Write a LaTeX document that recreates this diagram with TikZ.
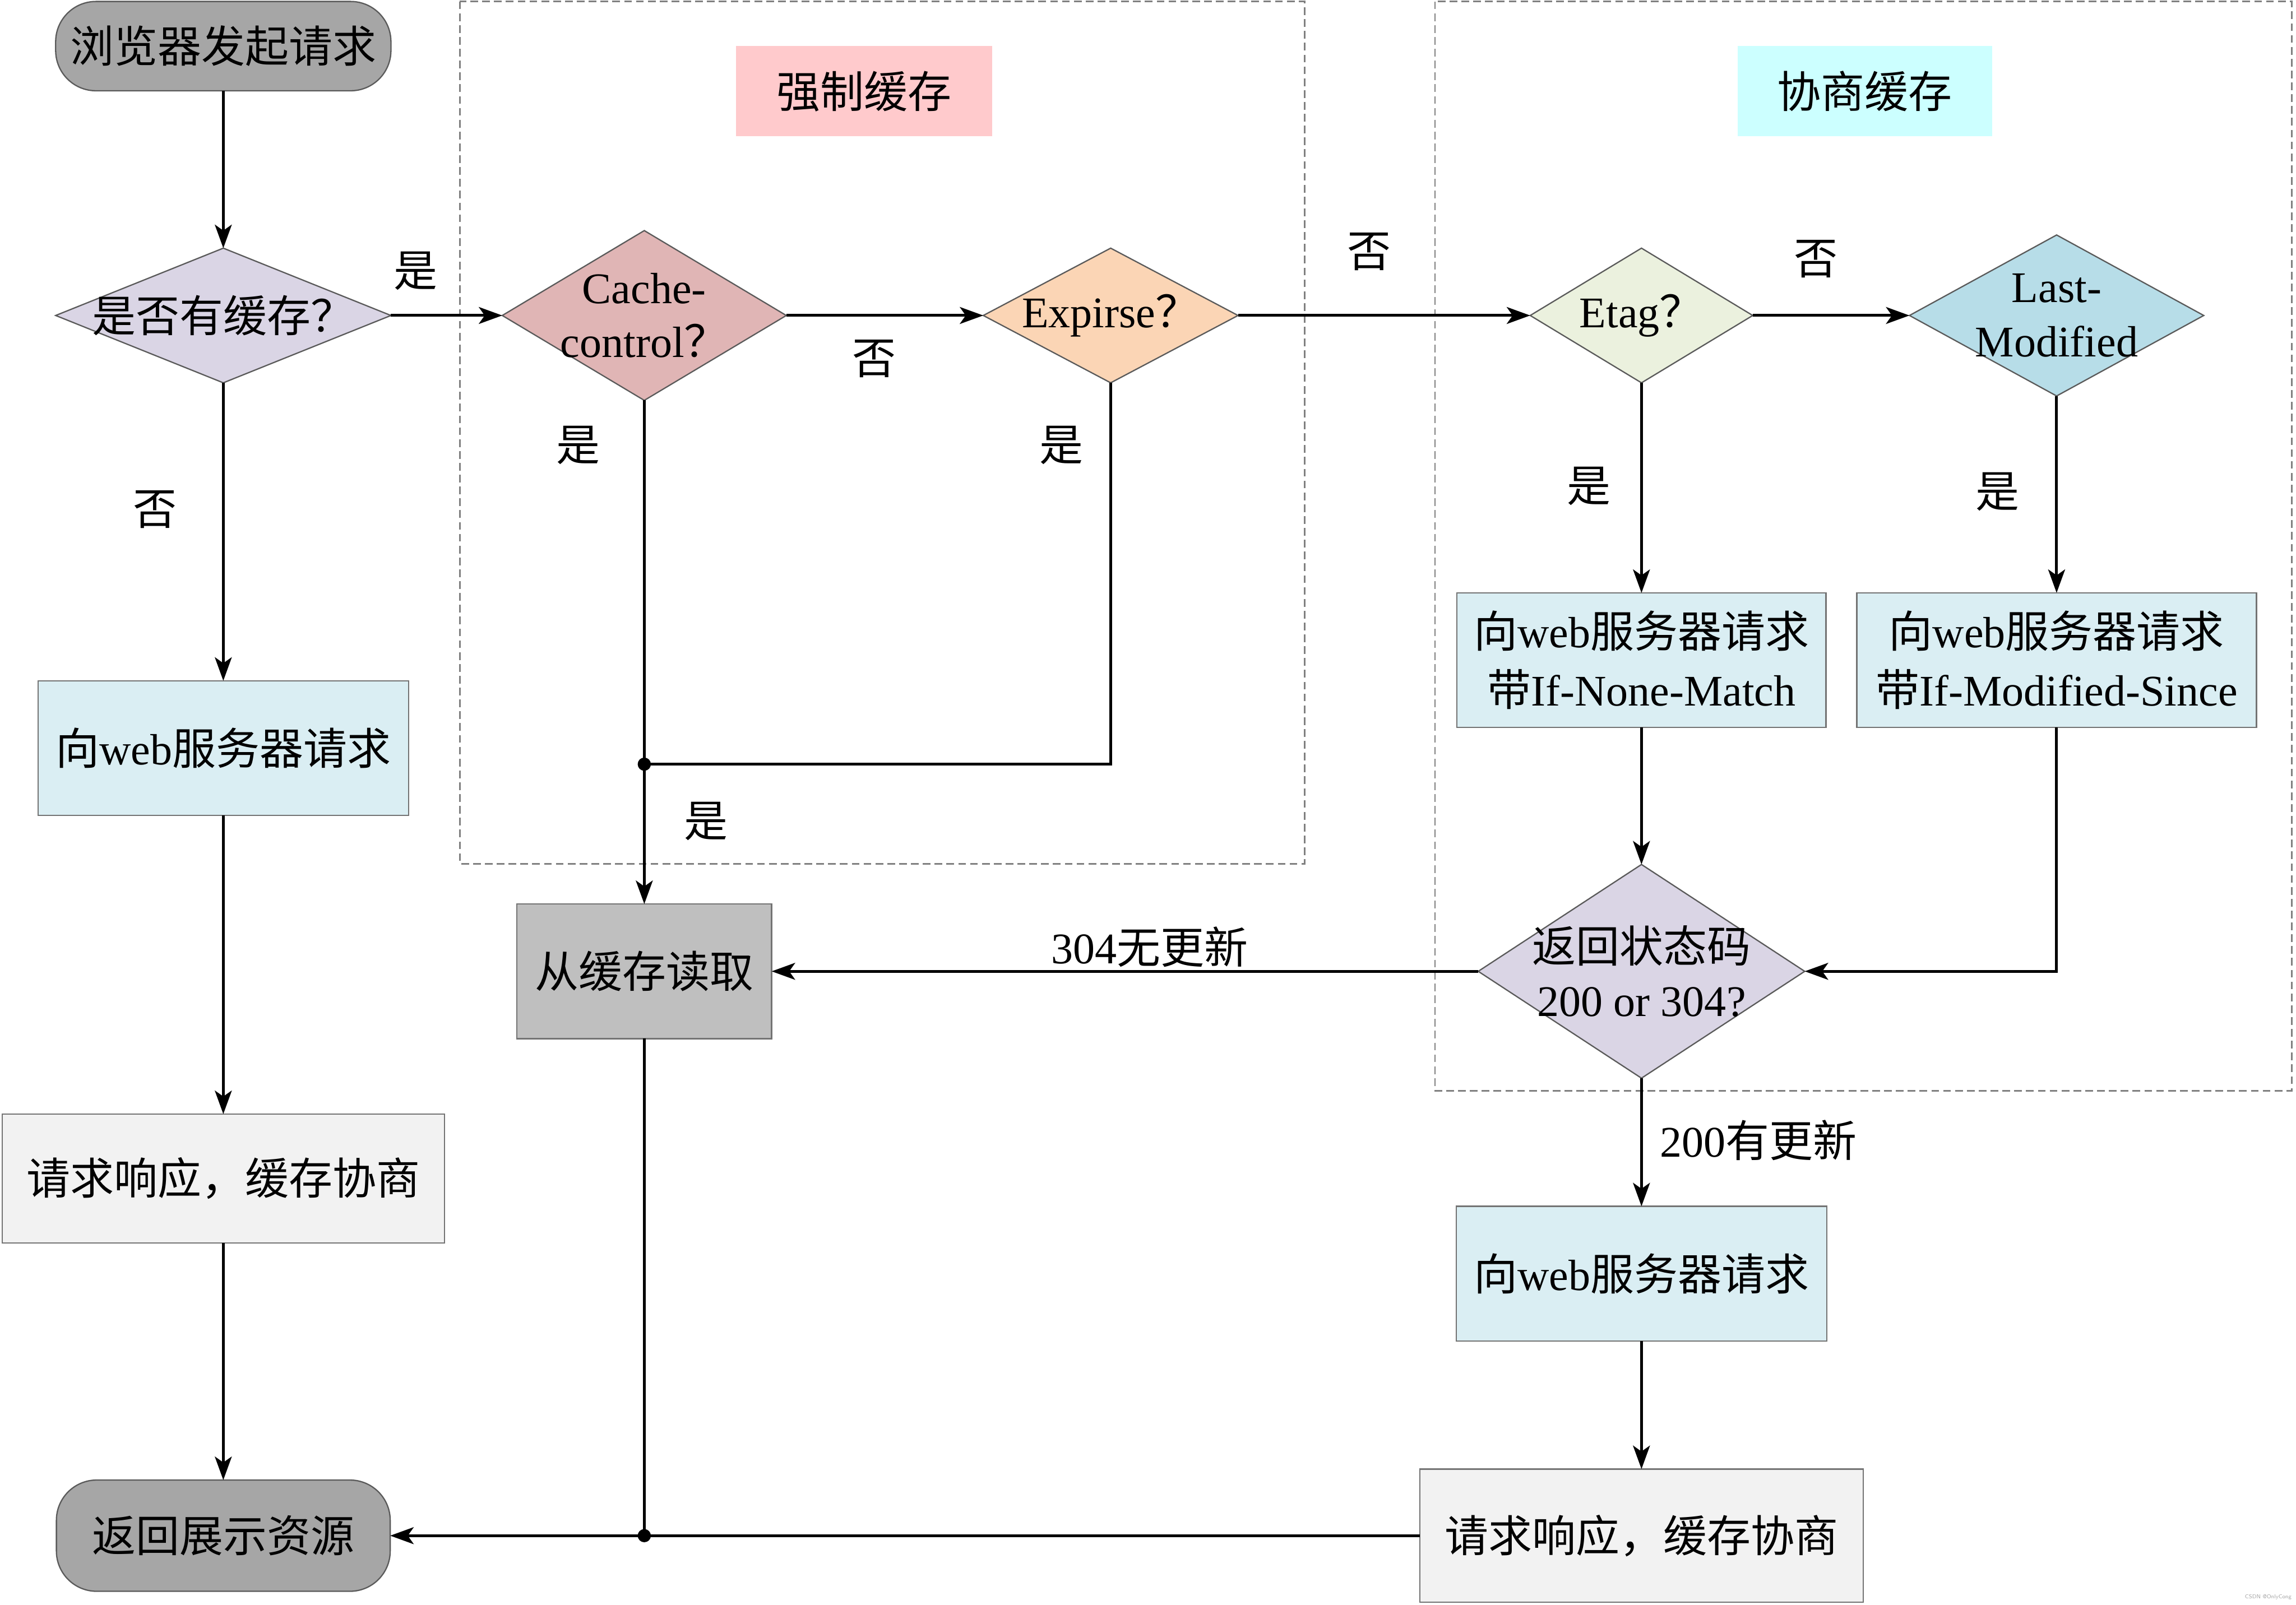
\documentclass[tikz,border=0pt]{standalone}
\usepackage{fontspec}
\setmainfont{Liberation Serif}
\newfontfamily\cjk{Noto Sans CJK SC}
\usetikzlibrary{shapes.geometric,arrows.meta}
\newcommand\zh[1]{{\cjk #1}}

\definecolor{termfill}{RGB}{166,166,166}
\definecolor{shapeline}{RGB}{90,90,90}
\definecolor{boxline}{RGB}{115,115,115}
\definecolor{lavender}{RGB}{218,213,229}
\definecolor{dustypink}{RGB}{224,181,181}
\definecolor{peach}{RGB}{251,213,181}
\definecolor{palegreen}{RGB}{235,241,222}
\definecolor{skyblue}{RGB}{183,221,232}
\definecolor{paleblue}{RGB}{218,238,243}
\definecolor{forcefill}{RGB}{255,202,204}
\definecolor{negfill}{RGB}{204,255,255}
\definecolor{readfill}{RGB}{191,191,191}
\definecolor{respfill}{RGB}{242,242,242}
\definecolor{framegray}{RGB}{128,128,128}

\begin{document}
\begin{tikzpicture}[x=0.02cm,y=-0.02cm,
  every node/.style={font=\fontsize{17}{21}\selectfont, inner sep=0pt, outer sep=0pt},
  term/.style={draw=shapeline, fill=termfill, line width=0.5pt, rounded corners=0.55cm},
  dec/.style={shape=diamond, draw=shapeline, line width=0.5pt},
  proc/.style={draw=boxline, line width=0.5pt, align=center, font=\fontsize{17}{22.7}\selectfont},
  title/.style={align=center},
  txt/.style={align=center},
  lbl/.style={},
  frame/.style={draw=framegray, line width=0.6pt, dash pattern=on 3pt off 1.6pt},
  arr/.style={draw, line width=1.1pt, -{Stealth[length=0.32cm,width=0.23cm,inset=0.08cm]}},
  link/.style={draw, line width=1.1pt}]

\useasboundingbox (0,0) rectangle (1568,1096);

% dashed group frames
\draw[frame] (314,1) rectangle (891,590);
\draw[frame] (980,1) rectangle (1565,745);

% group titles
\node[title, fill=forcefill, minimum width=3.50cm, minimum height=1.23cm] (tforce) at (590,62.3) {\zh{强制缓存}};
\node[title, fill=negfill, minimum width=3.48cm, minimum height=1.23cm] (tneg) at (1273.5,62.3) {\zh{协商缓存}};

% start and end
\node[term, minimum width=4.58cm, minimum height=1.22cm] (start) at (152.5,31.5) {\zh{浏览器发起请求}};
\node[term, minimum width=4.56cm, minimum height=1.52cm] (finish) at (152.5,1049) {\zh{返回展示资源}};

% decisions (shape + text on top)
\node[dec, fill=lavender, minimum width=4.58cm, minimum height=1.84cm] (dcache) at (152.5,215.5) {};
\node[txt] (dcachet) at (dcache) {\zh{是否有缓存？}};

\node[dec, fill=dustypink, minimum width=3.88cm, minimum height=2.32cm] (dcc) at (440,215.5) {};
\node[txt] (dcct) at (440,215.5) {Cache-\\control\zh{？}};

\node[dec, fill=peach, minimum width=3.48cm, minimum height=1.84cm] (dexp) at (758.5,215.5) {};
\node[txt] (dexpt) at (dexp) {Expirse\zh{？}};

\node[dec, fill=palegreen, minimum width=3.04cm, minimum height=1.84cm] (detag) at (1121,215.5) {};
\node[txt] (detagt) at (detag) {Etag\zh{？}};

\node[dec, fill=skyblue, minimum width=4.02cm, minimum height=2.20cm] (dlm) at (1404.5,215.5) {};
\node[txt] (dlmt) at (dlm) {Last-\\Modified};

\node[dec, fill=lavender, minimum width=4.46cm, minimum height=2.92cm] (dstatus) at (1121,663.5) {};
\node[txt] (dstatust) at (dstatus) {\zh{返回状态码}\\200 or 304?};

% process boxes
\node[proc, fill=paleblue, minimum width=5.06cm, minimum height=1.84cm] (bweb1) at (152.5,511) {\zh{向}web\zh{服务器请求}};
\node[proc, fill=respfill, minimum width=6.04cm, minimum height=1.76cm] (bresp1) at (152.5,805) {\zh{请求响应，缓存协商}};
\node[proc, fill=paleblue, minimum width=5.04cm, minimum height=1.84cm] (bnone) at (1121,451) {\zh{向}web\zh{服务器请求}\\\zh{带}If-None-Match};
\node[proc, fill=paleblue, minimum width=5.46cm, minimum height=1.84cm] (bmod) at (1404.5,451) {\zh{向}web\zh{服务器请求}\\\zh{带}If-Modified-Since};
\node[proc, fill=readfill, minimum width=3.48cm, minimum height=1.84cm] (bread) at (440,663.5) {\zh{从缓存读取}};
\node[proc, fill=paleblue, minimum width=5.06cm, minimum height=1.84cm] (bweb2) at (1121,870) {\zh{向}web\zh{服务器请求}};
\node[proc, fill=respfill, minimum width=6.06cm, minimum height=1.82cm] (bresp2) at (1121,1049) {\zh{请求响应，缓存协商}};

% junction points
\coordinate (j1) at (440,522);
\coordinate (j2) at (440,1049);

% connectors
\draw[arr] (start) -- (dcache);
\draw[arr] (dcache) -- (dcc);
\draw[arr] (dcc) -- (dexp);
\draw[arr] (dexp) -- (detag);
\draw[arr] (detag) -- (dlm);
\draw[arr] (detag) -- (bnone);
\draw[arr] (dlm) -- (bmod);
\draw[arr] (bnone) -- (dstatus);
\draw[arr] (bmod.south) |- (dstatus.east);
\draw[arr] (dstatus) -- (bread);
\draw[arr] (dstatus) -- (bweb2);
\draw[arr] (bweb2) -- (bresp2);
\draw[arr] (bresp2) -- (finish);
\draw[arr] (dcache) -- (bweb1);
\draw[arr] (bweb1) -- (bresp1);
\draw[arr] (bresp1) -- (finish);
\draw[link] (dcc.south) -- (j1);
\draw[link] (dexp.south) |- (j1);
\draw[arr] (j1) -- (bread);
\draw[link] (bread.south) -- (j2);
\fill (j1) circle[radius=0.09cm];
\fill (j2) circle[radius=0.09cm];

% branch labels
\node[lbl] (l1) at (284,185) {\zh{是}};
\node[lbl] (l2) at (106,348) {\zh{否}};
\node[lbl] (l3) at (597,245) {\zh{否}};
\node[lbl] (l4) at (395,304) {\zh{是}};
\node[lbl] (l5) at (725,304) {\zh{是}};
\node[lbl] (l6) at (482,561) {\zh{是}};
\node[lbl] (l7) at (935,172) {\zh{否}};
\node[lbl] (l8) at (1240,177) {\zh{否}};
\node[lbl] (l9) at (1085,332) {\zh{是}};
\node[lbl] (l10) at (1364,336) {\zh{是}};
\node[lbl] (l11) at (785,647) {304\zh{无更新}};
\node[lbl] (l12) at (1201,779) {200\zh{有更新}};

% watermark
\node[font=\fontsize{2.2}{2.5}\selectfont\sffamily, text=gray!70] (wm) at (1549,1091) {CSDN @OnlyCong};
\end{tikzpicture}
\end{document}
